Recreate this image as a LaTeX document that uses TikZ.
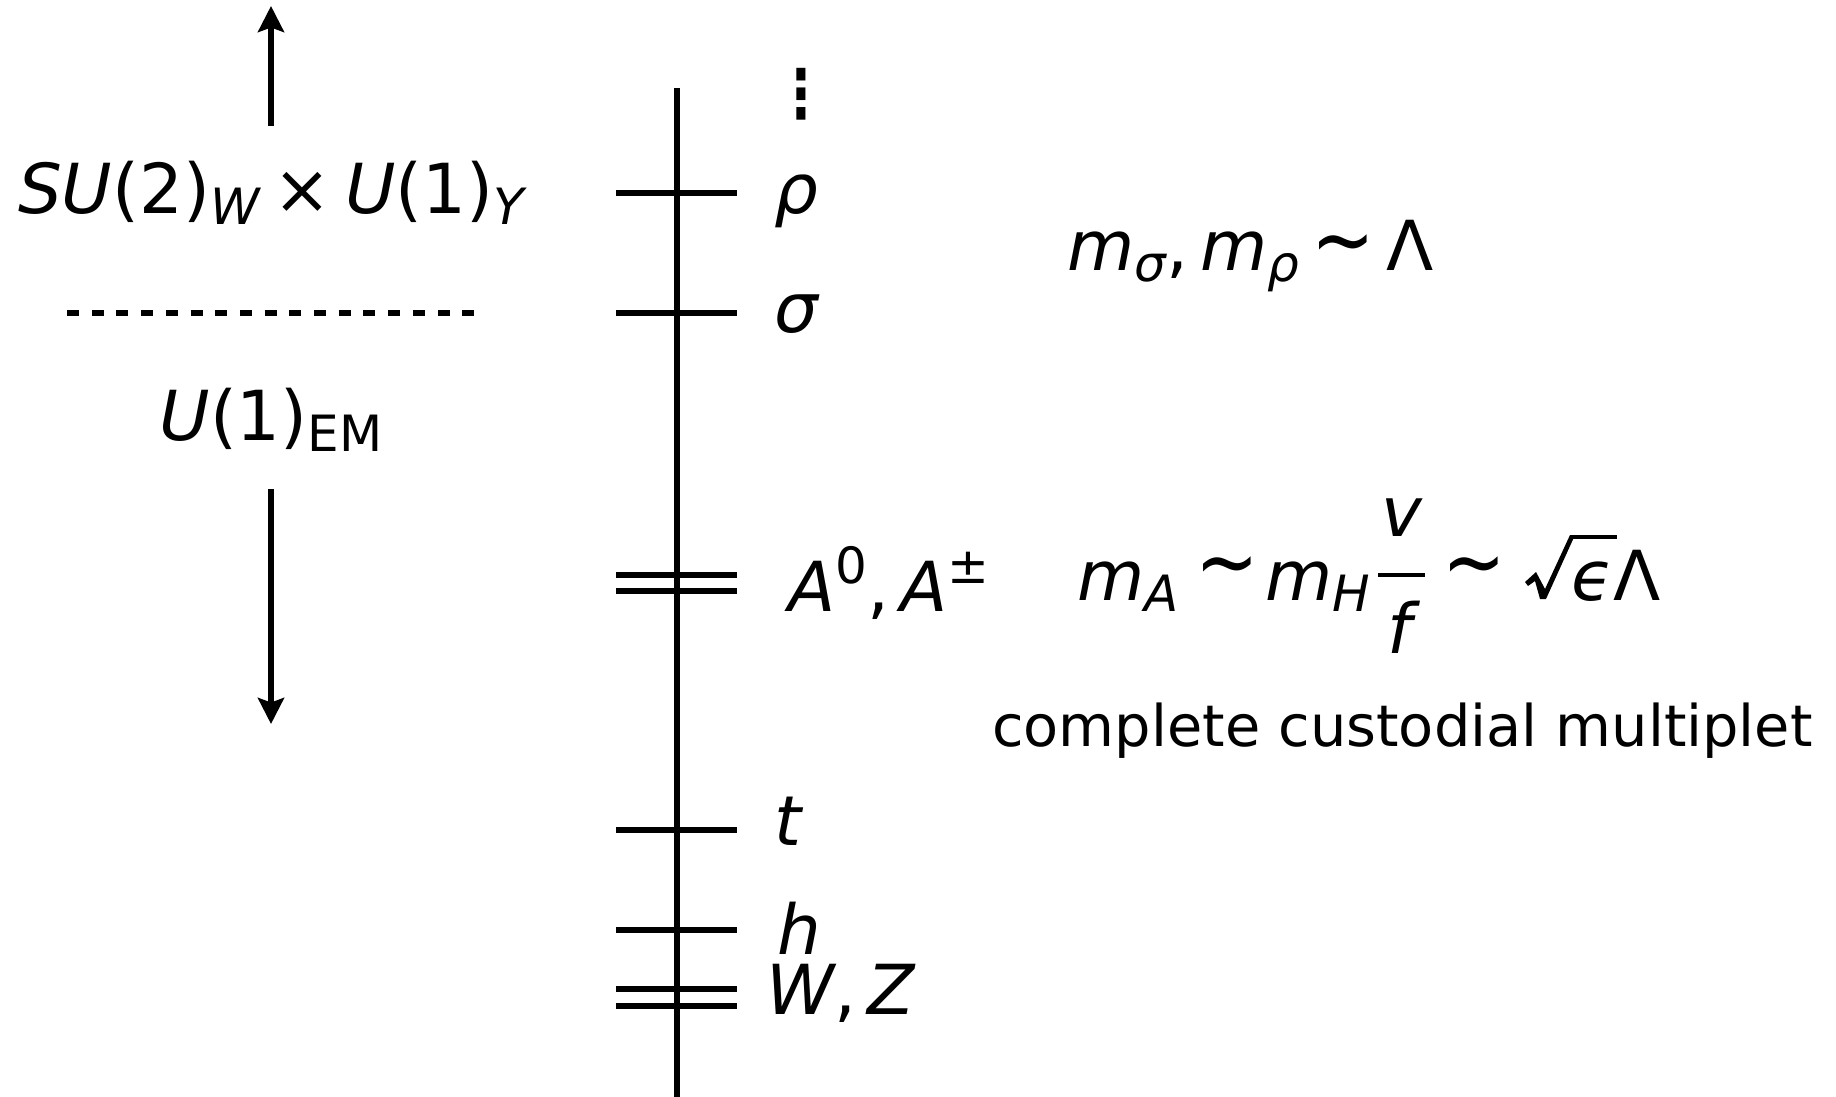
\documentclass[tikz,border=0pt]{standalone}
\usepackage{fontspec}
\usepackage{graphicx}
\setmainfont{DejaVu Sans}
\usetikzlibrary{arrows.meta}
\newcommand\bigf{\fontsize{69}{80}\selectfont}
\newcommand\smf{\fontsize{50}{55}\selectfont}
\newcommand\txf{\fontsize{57.4}{66}\selectfont}
\newcommand\lsub[1]{\raisebox{-11pt}{\smf #1}}
\newcommand\lsup[1]{\raisebox{28pt}{\smf #1}}
\newcommand\simglyph{\scalebox{1.1}[1.3]{∼}}
\begin{document}
\begin{tikzpicture}[x=1pt,y=-1pt,
  bar/.style={line width=6pt},
  arr/.style={line width=6pt,-{Stealth[length=26pt,width=26pt,inset=4.5pt]}},
  lbl/.style={inner sep=0pt,font=\bigf},
  txt/.style={inner sep=0pt,font=\txf}]
\useasboundingbox (0,0) rectangle (1836,1097);
% energy axis
\coordinate (axT) at (677,88);
\coordinate (axB) at (677,1100);
\draw[bar] (axT) -- (axB);
% levels
\foreach \n/\y in {rho/193,sig/313,Aa/575,Ab/591,t/830,h/930,Wa/989,Wb/1006}{
  \coordinate (\n L) at (616,\y);
  \coordinate (\n R) at (737,\y);
  \draw[bar] (\n L) -- (\n R);
}
% level labels
\node[lbl,anchor=base] (dots) at (801,118) {\scalebox{0.75}[0.97]{\bfseries ⋮}};
\node[lbl,anchor=base west] (lrho) at (774,213) {\itshape ρ};
\node[lbl,anchor=base west] (lsig) at (774,332) {\itshape σ};
\node[lbl,anchor=base west] (lA) at (788,611) {\itshape A\lsup{\upshape 0}\upshape,\hspace{0.16em}\itshape A\lsup{\upshape ±}};
\node[lbl,anchor=base west] (lt) at (774,845) {\itshape t};
\node[lbl,anchor=base west] (lh) at (777,954) {\itshape h};
\node[lbl,anchor=base west] (lW) at (766,1014) {\itshape W\upshape,\hspace{0.16em}\itshape Z};
% right formula 1
\node[lbl,anchor=base west] (msr) at (1067,270) {\itshape m\lsub{σ}\upshape,\hspace{0.18em}\itshape m\lsub{ρ}};
\node[lbl,anchor=center] (sim0) at (1343,253) {\simglyph};
\node[lbl,anchor=base west] (lam0) at (1386,270) {Λ};
% right formula 2
\node[lbl,anchor=base west] (mA) at (1077,600) {\itshape m\lsub{A}};
\node[lbl,anchor=center] (sim1) at (1227,575) {\simglyph};
\node[lbl,anchor=base west] (mH) at (1265,600) {\itshape m\lsub{H}};
\node[lbl,anchor=base] (fv) at (1402,536) {\itshape v};
\node[lbl,anchor=base] (ff) at (1400,653) {\itshape f};
\coordinate (barL) at (1378,575);
\coordinate (barR) at (1425,575);
\draw[line width=4.5pt] (barL) -- (barR);
\node[lbl,anchor=center] (sim2) at (1474,575) {\simglyph};
\fill (1525,582) -- (1536,572) -- (1545,589) -- (1570,535) -- (1575,535) -- (1546,599) -- (1540,599) -- (1535,581) -- (1528,586) -- cycle;
\coordinate (sqL) at (1572,537.2);
\coordinate (sqR) at (1617,537.2);
\draw[line width=4.3pt] (sqL) -- (sqR);
\node[lbl,anchor=base west] (epsl) at (1571,600) {\itshape ϵ\upshape Λ};
\node[txt,anchor=base west] (cust) at (992,746) {complete custodial multiplet};
% left: symmetry
\node[lbl,anchor=base] (sym) at (271,213) {\itshape SU\upshape(2)\lsub{\itshape W}\hspace{0.2em}×\hspace{0.2em}\itshape U\upshape(1)\lsub{\itshape Y}};
\node[lbl,anchor=base] (em) at (271,440) {\itshape U\upshape(1)\lsub{EM}};
\coordinate (dashL) at (67,313);
\coordinate (dashR) at (475,313);
\draw[bar,dash pattern=on 12pt off 12.7pt] (dashL) -- (dashR);
\coordinate (upS) at (271,126);
\coordinate (upE) at (271,6);
\draw[arr] (upS) -- (upE);
\coordinate (dnS) at (271,489);
\coordinate (dnE) at (271,724);
\draw[arr] (dnS) -- (dnE);
\end{tikzpicture}
\end{document}
